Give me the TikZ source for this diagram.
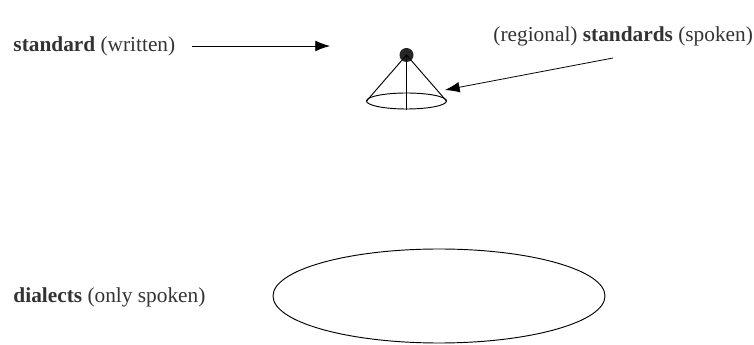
\documentclass[tikz,border=0pt]{standalone}
\usepackage{fontspec}
\setmainfont{Liberation Serif}
\usetikzlibrary{arrows.meta,shapes.geometric}

\begin{document}
\begin{tikzpicture}[x=0.75pt, y=-0.75pt, >={Latex[length=11pt,width=8pt]}, line width=0.7pt,
  lbl/.style={text=black!80, font=\fontsize{16}{19}\selectfont, inner sep=0pt, anchor=west}]
\useasboundingbox (0,0) rectangle (754,345);
% labels
\node[lbl] (written) at (13,46) {\textbf{standard} (written)};
\node[lbl] (regional) at (493,36) {(regional) \textbf{standards} (spoken)};
\node[lbl] (dialects) at (13,297) {\textbf{dialects} (only spoken)};
% the cone
\node[circle, fill=black!85, inner sep=0pt, minimum size=10.5pt] (apex) at (406.5,55) {};
\coordinate (baseL) at (366.5,101);\coordinate (baseR) at (446.5,101);
\draw (406.5,101) ellipse (40 and 8);
\draw (baseL) -- (apex.center) -- (baseR);
\draw (apex.center) -- (406.5,110);
% arrows
\coordinate (conetip) at (330,46);\coordinate (coneside) at (445,90);
\draw[->, line width=0.6pt] ([xshift=12pt]written.east) -- (conetip);
\draw[->, line width=0.6pt] (613,58) -- (coneside);
% dialects
\node[draw, ellipse, minimum width=249pt, minimum height=70.5pt] (spread) at (439,296) {};
\end{tikzpicture}
\end{document}
